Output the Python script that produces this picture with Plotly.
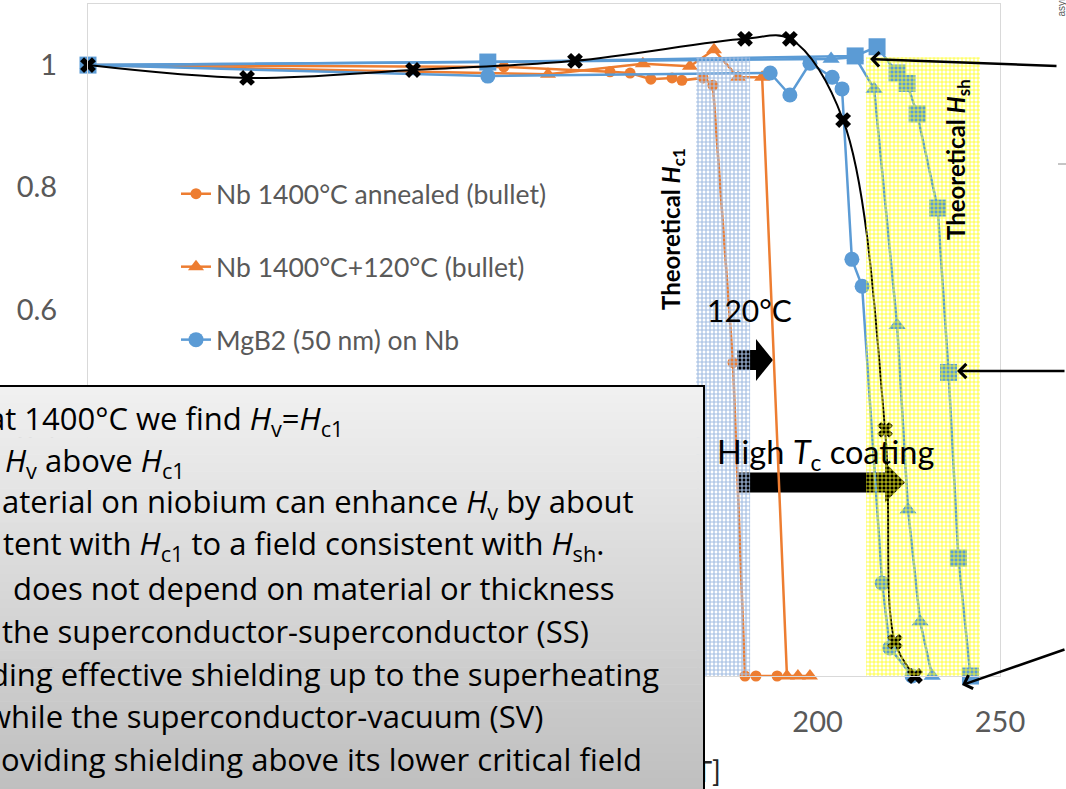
import plotly.graph_objects as go

# ---------------- data: applied field [mT] vs normalised shielding signal ----------------
nb_annealed_x = [0, 114.0, 143.1, 148.6, 154.3, 160.1, 162.8, 168.6, 171.3, 176.8, 180.1, 183.1, 188.9]
nb_annealed_y = [1.0, 0.997, 0.989, 0.987, 0.977, 0.979, 0.975, 0.979, 0.967, 0.513, 0.0, 0.0, 0.0]

nb_baked_x = [0, 126.1, 152.1, 165.0, 171.6, 178.2, 184.8, 191.6, 194.6, 197.9]
nb_baked_y = [1.0, 0.985, 1.002, 0.998, 1.025, 0.980, 0.980, 0.0, 0.0, 0.0]

mgb2_x = [0, 109.6, 187.0, 192.4, 197.9, 204.0, 206.7, 209.4, 212.2, 217.7, 219.8, 225.9]
mgb2_y = [1.0, 0.982, 0.987, 0.951, 1.003, 0.980, 0.961, 0.682, 0.638, 0.152, 0.046, 0.0]

coat_a_x = [0, 203.7, 210.3, 215.5, 221.8, 224.8, 228.1, 231.4]
coat_a_y = [1.0, 1.010, 1.013, 0.961, 0.574, 0.272, 0.089, 0.0]

coat_b_x = [0, 109.6, 210.3, 216.3, 221.8, 224.5, 227.3, 232.9, 235.9, 238.6, 241.9]
coat_b_y = [1.0, 1.005, 1.015, 1.030, 0.987, 0.970, 0.920, 0.766, 0.497, 0.193, 0.0]

coat_c_x = [0, 43.6, 89.1, 133.5, 180.1, 192.4, 207.0, 218.5, 221.2, 226.7]
coat_c_y = [1.0, 0.979, 0.992, 1.007, 1.043, 1.043, 0.910, 0.403, 0.056, 0.0]

# theoretical field ranges [mT]
hc1_range = [166.7, 181.5]
hsh_range = [213.3, 244.5]
band_y = [-0.015, 1.013]

x_ticks = [0, 50, 100, 150, 200, 250]
y_ticks = [0, 0.2, 0.4, 0.6, 0.8, 1.0]
y_ticktext = ["0", "0.2", "0.4", "0.6", "0.8", "1"]

ORANGE = "#ED7D31"
BLUE = "#5B9BD5"
FONT = "Lato"
BODY_FONT = "Open Sans"

# ---------------- page geometry ----------------
W, H = 1066, 789
ML, MR, MT, MB = 88, 66, 4, 113
PW, PH = W - ML - MR, H - MT - MB


def px(xp):
    return (xp - ML) / PW


def py(yp):
    return (H - MB - yp) / PH


fig = go.Figure()


def series(x, y, name, color, symbol, size, legend=True, width=2.5, shape="linear"):
    fig.add_trace(go.Scatter(
        x=x, y=y, name=name, mode="lines+markers", legendgroup=name,
        showlegend=legend, cliponaxis=False,
        line=dict(color=color, width=width, shape=shape),
        marker=dict(color=color, symbol=symbol, size=size, line=dict(width=0)),
    ))


series(nb_annealed_x, nb_annealed_y, "Nb 1400°C annealed (bullet)", ORANGE, "circle", 11)
series(nb_baked_x, nb_baked_y, "Nb 1400°C+120°C (bullet)", ORANGE, "triangle-up", 14)
series(mgb2_x, mgb2_y, "MgB2 (50 nm) on Nb", BLUE, "circle", 15)
series(coat_a_x, coat_a_y, "Coating A on Nb", BLUE, "triangle-up", 15, legend=False)
series(coat_b_x, coat_b_y, "Coating B on Nb", BLUE, "square", 17, legend=False)
series(coat_c_x, coat_c_y, "Coating C on Nb", "black", "x", 14, legend=False, width=2,
       shape="spline")


def band(rng, fg, solidity):
    fig.add_trace(go.Scatter(
        x=[rng[0], rng[1], rng[1], rng[0], rng[0]],
        y=[band_y[0], band_y[0], band_y[1], band_y[1], band_y[0]],
        mode="lines", fill="toself", line=dict(width=0), showlegend=False,
        hoverinfo="skip", fillcolor="rgba(0,0,0,0)", cliponaxis=False,
        fillpattern=dict(shape="+", size=4, solidity=solidity, fgcolor=fg,
                         fgopacity=1, bgcolor="rgba(0,0,0,0)", fillmode="replace"),
    ))


band(hc1_range, "#a3bee2", 0.5)
band(hsh_range, "#ffff1a", 0.36)

shapes = []

# axis title (sits underneath the text panel)
shapes.append(dict(
    type="rect", xref="paper", yref="paper", x0=px(250), x1=px(724),
    y0=py(788), y1=py(752), line=dict(width=0), fillcolor="rgba(0,0,0,0)",
    layer="above",
    label=dict(text="Applied magnetic field [mT]", textposition="middle right",
               padding=0, font=dict(family=FONT, size=29, color="#262626")),
))


def block_arrow(x0, x1, xh, yc, hb, hh):
    path = (f"M{px(x0)},{py(yc - hb)} L{px(xh)},{py(yc - hb)} L{px(xh)},{py(yc - hh)} "
            f"L{px(x1)},{py(yc)} L{px(xh)},{py(yc + hh)} L{px(xh)},{py(yc + hb)} "
            f"L{px(x0)},{py(yc + hb)} Z")
    shapes.append(dict(type="path", path=path, xref="paper", yref="paper",
                       fillcolor="black", line=dict(width=0), layer="between"))


block_arrow(737, 773, 756, 360, 10, 21)
block_arrow(737, 905, 885, 482.5, 10, 20)

# text panel with a vertical grey gradient
N = 48
top, bottom = 386, 795
for i in range(N):
    y0 = top + (bottom - top) * i / N
    y1 = top + (bottom - top) * (i + 1) / N
    g = round(241 - (241 - 190) * (i + 0.5) / N)
    shapes.append(dict(type="rect", xref="paper", yref="paper",
                       x0=px(-5), x1=px(704), y0=py(y1 + 0.6), y1=py(y0),
                       line=dict(width=0), fillcolor=f"rgb({g},{g},{g})", layer="above"))
shapes.append(dict(type="path", xref="paper", yref="paper",
                   path=f"M{px(-5)},{py(386)} L{px(704)},{py(386)} L{px(704)},{py(800)}",
                   line=dict(color="black", width=2), layer="above"))

# small tick of the neighbouring panel
shapes.append(dict(type="line", xref="paper", yref="paper", x0=px(1058), x1=px(1068),
                   y0=py(164), y1=py(164), line=dict(color="#8c8c8c", width=1),
                   layer="above"))

annotations = []
panel_lines = [
    ("at 1400°C we find <i>H</i><sub>v</sub>=<i>H</i><sub>c1</sub>", -14, 420),
    ("<i>H</i><sub>v</sub> above <i>H</i><sub>c1</sub>", 3, 462),
    ("aterial on niobium can enhance <i>H</i><sub>v</sub> by about", 0, 503),
    ("tent with <i>H</i><sub>c1</sub> to a field consistent with <i>H</i><sub>sh</sub>.", 1, 545),
    ("does not depend on material or thickness", 11, 588),
    ("the superconductor-superconductor (SS)", 0, 631),
    ("ding effective shielding up to the superheating", -12, 674),
    ("while the superconductor-vacuum (SV)", -15, 716),
    ("oviding shielding above its lower critical field", -1, 759),
]
for txt, x0, yc in panel_lines:
    annotations.append(dict(text=txt, xref="paper", yref="paper", x=px(x0), y=py(yc),
                            xanchor="left", yanchor="middle", showarrow=False,
                            font=dict(family=BODY_FONT, size=31, color="black")))

annotations += [
    dict(text="<b>Theoretical <i>H</i><sub>c1</sub></b>", xref="paper", yref="paper",
         x=px(672), y=py(229), xanchor="center", yanchor="middle", textangle=-90,
         showarrow=False, font=dict(family=FONT, size=24, color="black")),
    dict(text="<b>Theoretical <i>H</i><sub>sh</sub></b>", xref="paper", yref="paper",
         x=px(958), y=py(160), xanchor="center", yanchor="middle", textangle=-90,
         showarrow=False, font=dict(family=FONT, size=24, color="black")),
    dict(text="120°C", xref="paper", yref="paper", x=px(705), y=py(310),
         xanchor="left", yanchor="middle", showarrow=False,
         font=dict(family=FONT, size=30, color="black")),
    dict(text="High <i>T</i><sub>c</sub> coating", xref="paper", yref="paper", x=px(715),
         y=py(454), xanchor="left", yanchor="middle", showarrow=False,
         font=dict(family=FONT, size=32.5, color="black")),
    dict(text="asymmetry", xref="paper", yref="paper", x=px(1061), y=py(19),
         xanchor="center", yanchor="bottom", textangle=-90, showarrow=False,
         font=dict(family="Liberation Sans", size=10, color="#595959")),
]

# pointers coming in from the neighbouring panel
for tip, tail in [((870, 59), (1058, 66)), ((957, 371), (1068, 371)),
                  ((962, 685), (1078, 649))]:
    annotations.append(dict(
        text="", xref="paper", yref="paper", x=px(tip[0]), y=py(tip[1]),
        ax=tail[0] - tip[0], ay=tail[1] - tip[1], showarrow=True,
        arrowhead=4, arrowsize=1.1, arrowwidth=2.5, arrowcolor="black"))

axis_common = dict(showgrid=False, zeroline=False, showline=True, mirror=True,
                   linecolor="#d9d9d9", linewidth=1, ticks="",
                   tickfont=dict(family=FONT, size=29, color="#595959"))

fig.update_layout(
    width=W, height=H, margin=dict(l=ML, r=MR, t=MT, b=MB),
    paper_bgcolor="white", plot_bgcolor="white",
    xaxis=dict(range=[0, 250], tickvals=x_ticks, ticklabelstandoff=20, **axis_common),
    yaxis=dict(range=[0, 1.1], tickvals=y_ticks, ticktext=y_ticktext,
               ticklabelstandoff=24, **axis_common),
    legend=dict(x=px(176), y=py(170), xanchor="left", yanchor="top",
                bgcolor="rgba(0,0,0,0)", traceorder="grouped", tracegroupgap=35.5,
                font=dict(family=FONT, size=26.5, color="#595959"), itemwidth=30),
    shapes=shapes,
    annotations=annotations,
    showlegend=True,
)

fig.write_html("out.html")
